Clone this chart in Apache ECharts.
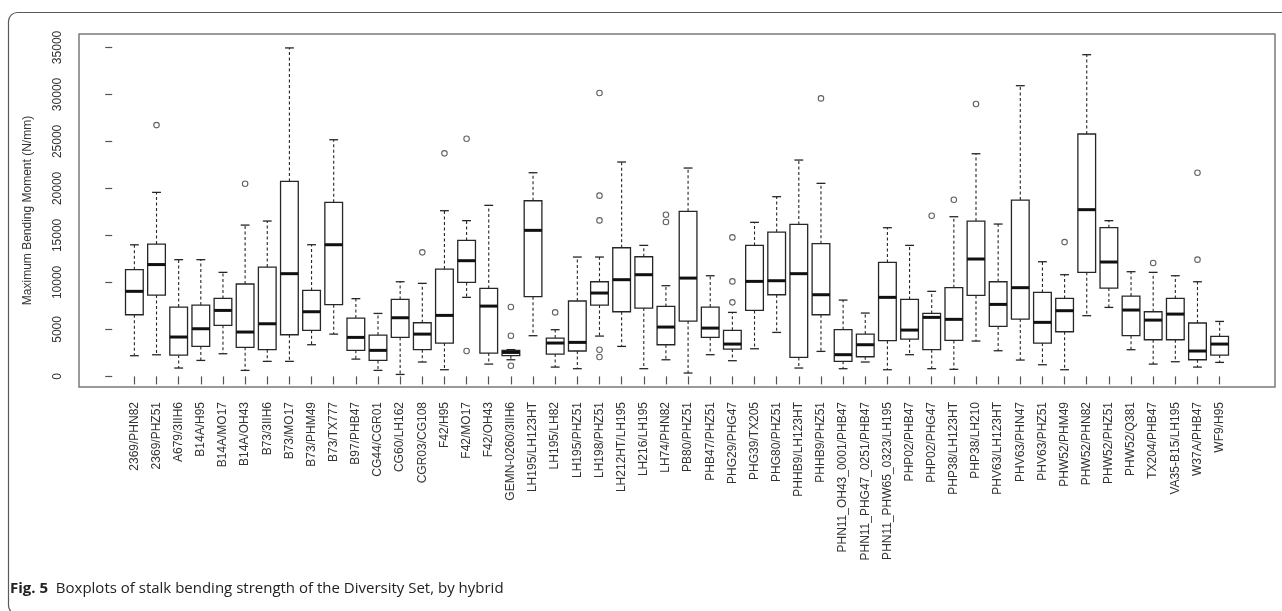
<!DOCTYPE html>
<html>
<head>
<meta charset="utf-8">
<title>Stalk bending strength by hybrid</title>
<script src="https://cdn.jsdelivr.net/npm/echarts@6/dist/echarts.min.js"></script>
<style>
  html, body { margin: 0; padding: 0; background: #ffffff; }
  #chart { width: 1282px; height: 611px; }
</style>
</head>
<body>
<div id="chart"></div>
<script>
// Hybrids, in plotting order
const categories = [
  '2369/PHN82', '2369/PHZ51', 'A679/3IIH6', 'B14A/H95', 'B14A/MO17', 'B14A/OH43',
  'B73/3IIH6', 'B73/MO17', 'B73/PHM49', 'B73/TX777', 'B97/PHB47', 'CG44/CGR01',
  'CG60/LH162', 'CGR03/CG108', 'F42/H95', 'F42/MO17', 'F42/OH43', 'GEMN-0260/3IIH6',
  'LH195/LH123HT', 'LH195/LH82', 'LH195/PHZ51', 'LH198/PHZ51', 'LH212HT/LH195',
  'LH216/LH195', 'LH74/PHN82', 'PB80/PHZ51', 'PHB47/PHZ51', 'PHG29/PHG47',
  'PHG39/TX205', 'PHG80/PHZ51', 'PHHB9/LH123HT', 'PHHB9/PHZ51',
  'PHN11_OH43_0001/PHB47', 'PHN11_PHG47_0251/PHB47', 'PHN11_PHW65_0323/LH195',
  'PHP02/PHB47', 'PHP02/PHG47', 'PHP38/LH123HT', 'PHP38/LH210', 'PHV63/LH123HT',
  'PHV63/PHN47', 'PHV63/PHZ51', 'PHW52/PHM49', 'PHW52/PHN82', 'PHW52/PHZ51',
  'PHW52/Q381', 'TX204/PHB47', 'VA35-B15/LH195', 'W37A/PHB47', 'WF9/H95'
];

// Five-number summaries (N/mm)
const whiskerLow = [
  2200, 2300, 890, 1700, 2410, 640, 1600, 1600, 3370, 4500,
  1840, 640, 210, 1530, 710, 8410, 1310, 1770, 4330, 990,
  820, 4290, 3190, 820, 1770, 360, 2310, 1670, 2940, 4680,
  890, 2660, 820, 1530, 710, 2310, 820, 750, 3760, 2730,
  1740, 1240, 710, 6460, 7340, 2840, 1310, 1560, 990, 1490
];
const quartile1 = [
  6560, 8650, 2270, 3190, 5430, 3090, 2840, 4430, 4900, 7630,
  2770, 1700, 4150, 2840, 3550, 10000, 2480, 2200, 8480, 2380,
  2700, 7590, 6880, 7270, 3370, 5890, 4150, 2910, 7020, 8690,
  2020, 6560, 1600, 2090, 3800, 3970, 2840, 3830, 8620, 5320,
  6100, 3550, 4750, 11070, 9400, 4330, 3900, 3900, 1770, 2270
];
const median = [
  9050, 11900, 4190, 5070, 7020, 4720, 5600, 10930, 6880, 14010,
  4150, 2770, 6240, 4500, 6490, 12310, 7480, 2550, 15540, 3550,
  3620, 8870, 10290, 10820, 5250, 10460, 5140, 3440, 10110, 10180,
  10930, 8690, 2310, 3370, 8410, 4930, 6280, 6070, 12490, 7660,
  9440, 5750, 6990, 17740, 12170, 7060, 5990, 6630, 2700, 3440
];
const quartile3 = [
  11350, 14080, 7380, 7590, 8300, 9830, 11630, 20750, 9150, 18520,
  6210, 4400, 8190, 5710, 11420, 14470, 9360, 2770, 18690, 4080,
  8020, 10070, 13690, 12730, 7450, 17560, 7380, 4900, 13940, 15360,
  16170, 14120, 4970, 4500, 12130, 8190, 6700, 9440, 16530, 10070,
  18760, 8940, 8300, 25790, 15820, 8550, 6880, 8300, 5680, 4260
];
const whiskerHigh = [
  14000, 19580, 12420, 12420, 11070, 16100, 16530, 34950, 14010, 25180,
  8270, 6700, 10070, 9900, 17630, 16570, 18200, 2850, 21670, 4970,
  12700, 12700, 22810, 13940, 9650, 22170, 10710, 6810, 16390, 19120,
  23020, 20540, 8120, 6740, 15820, 13940, 9050, 16990, 23690, 16210,
  30930, 12200, 10820, 34230, 16570, 11140, 11070, 10710, 10070, 5850
];

// Points beyond the whiskers
const outlierHybrid = [
  '2369/PHZ51', 'B14A/OH43', 'CGR03/CG108', 'F42/H95', 'F42/MO17', 'F42/MO17',
  'GEMN-0260/3IIH6', 'GEMN-0260/3IIH6', 'GEMN-0260/3IIH6', 'LH195/LH82',
  'LH198/PHZ51', 'LH198/PHZ51', 'LH198/PHZ51', 'LH198/PHZ51', 'LH198/PHZ51',
  'LH74/PHN82', 'LH74/PHN82', 'PHG29/PHG47', 'PHG29/PHG47', 'PHG29/PHG47',
  'PHHB9/PHZ51', 'PHP02/PHG47', 'PHP38/LH123HT', 'PHP38/LH210', 'PHW52/PHM49',
  'TX204/PHB47', 'W37A/PHB47', 'W37A/PHB47'
];
const outlierValue = [
  26740, 20500, 13200, 23730, 25290, 2700,
  7380, 4330, 1140, 6810,
  30150, 19230, 16600, 2840, 2060,
  17200, 16420, 14790, 10110, 7880,
  29580, 17100, 18800, 28980, 14290,
  12060, 21670, 12420
];

const yTickValues = [0, 5000, 10000, 15000, 20000, 25000, 30000, 35000];
const yTitle = 'Maximum Bending Moment (N/mm)';
const captionLead = 'Fig. 5';
const captionText = 'Boxplots of stalk bending strength of the Diversity Set, by hybrid';

// Hybrids sit at positions 1..n on a numeric axis padded like a base-R boxplot
const positions = categories.map((_, i) => i + 1);
const boxData = categories.map((_, i) => [
  i + 1, whiskerLow[i], quartile1[i], median[i], quartile3[i], whiskerHigh[i]
]);
const outlierData = outlierHybrid.map((h, k) => [categories.indexOf(h) + 1, outlierValue[k]]);

const INK = '#262626';
const AXIS_FONT = '"Liberation Sans", Arial, Helvetica, sans-serif';

function renderBox(params, api) {
  const x = api.value(0);
  const lo = api.coord([x, api.value(1)]);
  const b1 = api.coord([x, api.value(2)]);
  const md = api.coord([x, api.value(3)]);
  const b3 = api.coord([x, api.value(4)]);
  const hi = api.coord([x, api.value(5)]);
  const half = api.size([0.8, 0])[0] / 2;
  const cap = half / 2;
  const cx = lo[0];
  const solid = { stroke: INK, lineWidth: 1.3, fill: null };
  const dashed = { stroke: INK, lineWidth: 1.1, lineDash: [3, 2.5], fill: null };
  return {
    type: 'group',
    children: [
      { type: 'line', shape: { x1: cx, y1: b3[1], x2: cx, y2: hi[1] }, style: dashed },
      { type: 'line', shape: { x1: cx, y1: b1[1], x2: cx, y2: lo[1] }, style: dashed },
      { type: 'line', shape: { x1: cx - cap, y1: hi[1], x2: cx + cap, y2: hi[1] }, style: solid },
      { type: 'line', shape: { x1: cx - cap, y1: lo[1], x2: cx + cap, y2: lo[1] }, style: solid },
      { type: 'rect', shape: { x: cx - half, y: b3[1], width: half * 2, height: b1[1] - b3[1] },
        style: { stroke: INK, lineWidth: 1.3, fill: '#ffffff' } },
      { type: 'line', shape: { x1: cx - half, y1: md[1], x2: cx + half, y2: md[1] },
        style: { stroke: '#111111', lineWidth: 3 } }
    ]
  };
}

const chart = echarts.init(document.getElementById('chart'), null, { renderer: 'canvas' });

chart.setOption({
  animation: false,
  backgroundColor: '#ffffff',
  grid: {
    left: 79, right: 7, top: 34, bottom: 224,
    show: true, borderColor: '#7a7a7a', borderWidth: 1.5, backgroundColor: 'transparent'
  },
  xAxis: {
    type: 'value',
    min: -1.5,
    max: 52.5,
    splitLine: { show: false },
    axisLine: { show: false },
    axisTick: {
      show: true, length: 8, customValues: positions,
      lineStyle: { color: '#555', width: 1.2 }
    },
    axisLabel: {
      show: true, customValues: positions, rotate: 90, margin: 15,
      formatter: (v) => categories[Math.round(v) - 1] || '',
      fontFamily: AXIS_FONT, fontSize: 12, color: '#333'
    }
  },
  yAxis: {
    type: 'value',
    min: -1128,
    max: 36431,
    splitLine: { show: false },
    axisLine: { show: false },
    axisTick: {
      show: true, length: 7, customValues: yTickValues,
      lineStyle: { color: '#555', width: 1.2 }
    },
    axisLabel: {
      show: true, customValues: yTickValues, rotate: 90, margin: 15,
      formatter: (v) => String(v),
      fontFamily: AXIS_FONT, fontSize: 12, color: '#333'
    },
    name: yTitle,
    nameLocation: 'middle',
    nameRotate: 90,
    nameGap: 45,
    nameTextStyle: { fontFamily: AXIS_FONT, fontSize: 12, color: '#333' }
  },
  series: [
    {
      type: 'custom',
      renderItem: renderBox,
      data: boxData,
      encode: { x: 0, y: [1, 2, 3, 4, 5] },
      z: 3
    },
    {
      type: 'scatter',
      data: outlierData,
      symbol: 'circle',
      symbolSize: 5.5,
      itemStyle: { color: '#ffffff', borderColor: '#3a3a3a', borderWidth: 1.1 },
      z: 4
    }
  ],
  graphic: [
    {
      type: 'rect',
      left: 6, top: 10,
      shape: { width: 1300, height: 602, r: 9 },
      style: { fill: null, stroke: '#5a5a5a', lineWidth: 1.2 },
      silent: true, z: -10
    },
    {
      type: 'text',
      left: 10, top: 581,
      style: {
        text: '{b|' + captionLead + '}  ' + captionText,
        fontFamily: '"Open Sans", "Noto Sans", sans-serif',
        fontSize: 15,
        fill: '#222',
        rich: {
          b: { fontFamily: '"Open Sans", "Noto Sans", sans-serif', fontSize: 15, fontWeight: 'bold', fill: '#222' }
        }
      },
      silent: true
    }
  ]
});
</script>
</body>
</html>
